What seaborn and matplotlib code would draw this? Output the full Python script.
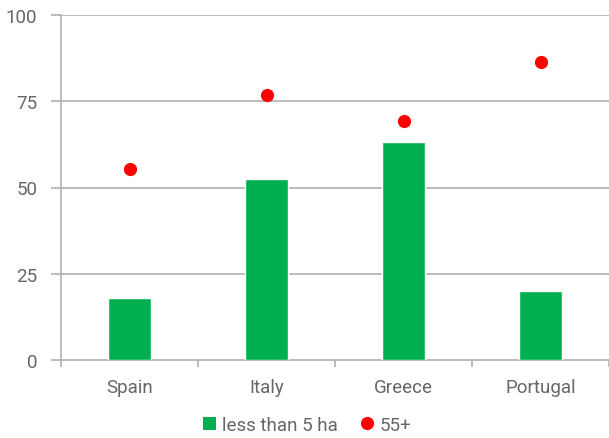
import numpy as np
import pandas as pd
import matplotlib
matplotlib.use("Agg")
import matplotlib.pyplot as plt
from matplotlib.patches import Patch
from matplotlib.lines import Line2D
import seaborn as sns

# ── data ──────────────────────────────────────
countries = ["Spain", "Italy", "Greece", "Portugal"]
small_farms = [18.0, 52.4, 63.1, 19.9]      # less than 5 ha
older_holders = [55.3, 76.7, 69.2, 86.4]    # 55+
y_ticks = [0, 25, 50, 75, 100]

GREEN = "#00B050"
RED = "#FF0000"
TEXT = "#666666"
GRID = "#B0B0B0"
FS = 13.5

sns.set_theme(style="white")
plt.rcParams["font.family"] = ["Roboto", "DejaVu Sans"]

df = pd.DataFrame({"country": countries, "small": small_farms, "old": older_holders})

fig = plt.figure(figsize=(6.09, 4.39), dpi=100)
ax = fig.add_axes([61 / 609, 1 - 361 / 439, 1 - 61 / 609, (361 - 16) / 439])

sns.barplot(data=df, x="country", y="small", color=GREEN, width=0.31,
            saturation=1, ax=ax, zorder=3)
sns.stripplot(data=df, x="country", y="old", color=RED, jitter=False,
              size=9.5, linewidth=0, ax=ax, zorder=4)

ax.set_xlim(-0.5, 3.5)
ax.set_ylim(0, 100)
ax.set_yticks(y_ticks)
ax.set_xlabel("")
ax.set_ylabel("")

# grid lines
for v in y_ticks[1:]:
    ax.axhline(v, color=GRID, linewidth=1.2, zorder=1)

for s in ["top", "right"]:
    ax.spines[s].set_visible(False)
for s in ["left", "bottom"]:
    ax.spines[s].set_color(GRID)
    ax.spines[s].set_linewidth(1.2)

# category separators as minor ticks
ax.set_xticks(np.arange(-0.5, 4.0, 1.0), minor=True)
ax.tick_params(axis="x", which="minor", length=5, width=1.2, color=GRID, bottom=True)
ax.tick_params(axis="x", which="major", length=0, pad=13, labelsize=FS, labelcolor=TEXT)
ax.tick_params(axis="y", length=7, width=1.2, color=GRID, pad=10, labelsize=FS,
               labelcolor=TEXT, left=True)

handles = [
    Patch(facecolor=GREEN, edgecolor="none", label="less than 5 ha"),
    Line2D([0], [0], marker="o", linestyle="none", markersize=9.5,
           markerfacecolor=RED, markeredgewidth=0, label="55+"),
]
leg = fig.legend(handles=handles, loc="center", bbox_to_anchor=(307 / 609, 1 - 426 / 439),
                 ncol=2, frameon=False, fontsize=FS, handlelength=0.7,
                 handleheight=0.7, handletextpad=0.3, columnspacing=1.2)
for t in leg.get_texts():
    t.set_color(TEXT)

fig.savefig("out.png", dpi=100)
